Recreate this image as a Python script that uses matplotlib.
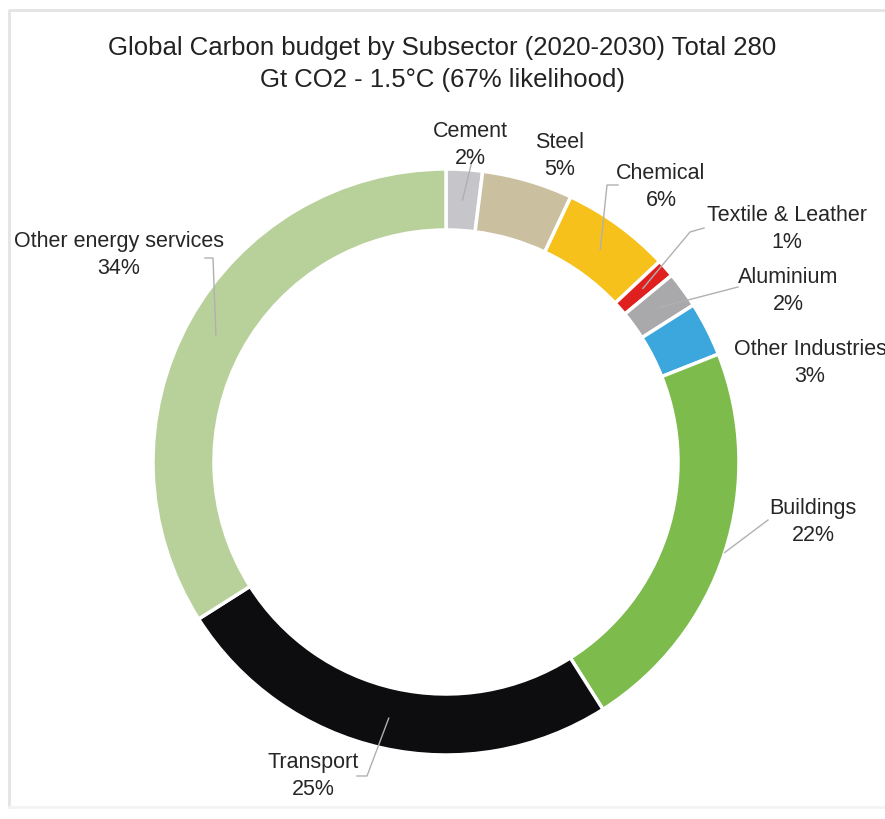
import numpy as np
import matplotlib
matplotlib.use("Agg")
import matplotlib.pyplot as plt

plt.rcParams['font.family'] = ['Liberation Sans', 'DejaVu Sans']

# data: clockwise from 12 o'clock
sectors = ['Cement', 'Steel', 'Chemical', 'Textile & Leather', 'Aluminium',
           'Other Industries', 'Buildings', 'Transport', 'Other energy services']
shares = [2, 5, 6, 1, 2, 3, 22, 25, 34]
colors = ['#c6c6ca', '#cabf9f', '#f6c11a', '#e0201f', '#a9a9ab',
          '#3ba7dd', '#7cbb4c', '#0d0d0f', '#b8d19b']

# label text centres (pixels from top-left), leader-line elbows (None = no line)
# and where the leader starts across the ring (0 = inner edge, 1 = outer edge)
label_pos = [(470, 145), (560, 156), (661, 187), (787, 229), (788, 291),
             (810, 363), (813, 522), (313, 776), (119, 255)]
elbows = [[(472, 162)], None, [(607, 186), (618, 186)], [(690, 233), (704, 229)],
          [(738, 288)], None, [(768, 521)], [(367, 777), (357, 777)],
          [(213, 259), (205, 259)]]
line_start = [0.5, 0.5, 0.5, 0.5, 0.5, 0.5, 1.0, 0.5, 0.5]

W, H = 885, 820
fig = plt.figure(figsize=(W / 100, H / 100), dpi=100)
ax = fig.add_axes([0, 0, 1, 1])

# light frame around the chart
ax.plot([9, 9, W + 5], [H - 808, H - 11, H - 11], color='#e4e4e4', lw=2)
ax.plot([9, W + 5], [H - 808, H - 808], color='#f3f3f3', lw=2)

cx, cy, R, ring = 446, H - 463, 293, 61
wedges, _ = ax.pie(shares, colors=colors, startangle=90, counterclock=False,
                   center=(cx, cy), radius=R, frame=True,
                   wedgeprops=dict(width=ring, edgecolor='white', linewidth=2.5))
ax.set_xlim(0, W)
ax.set_ylim(0, H)
ax.set_aspect('equal')
ax.axis('off')

for w, name, val, pos, elb, f in zip(wedges, sectors, shares, label_pos,
                                      elbows, line_start):
    mid = np.deg2rad((w.theta1 + w.theta2) / 2)
    rm = R - ring * (1 - f)
    sx, sy = cx + rm * np.cos(mid), cy + rm * np.sin(mid)
    if elb is not None:
        xs = [sx] + [p[0] for p in elb]
        ys = [sy] + [H - p[1] for p in elb]
        ax.plot(xs, ys, color='#b0b0b0', lw=1.0, zorder=3)
    ax.text(pos[0], H - pos[1], f'{name}\n{val}%', ha='center', va='center',
            fontsize=15.5, color='#262626', linespacing=1.4, zorder=4)

ax.text(442, H - 64, 'Global Carbon budget by Subsector (2020-2030) Total 280\n'
        'Gt CO2 - 1.5°C (67% likelihood)', ha='center', va='center',
        fontsize=18.5, color='#222222', linespacing=1.38)

fig.savefig('out.png', dpi=100)
